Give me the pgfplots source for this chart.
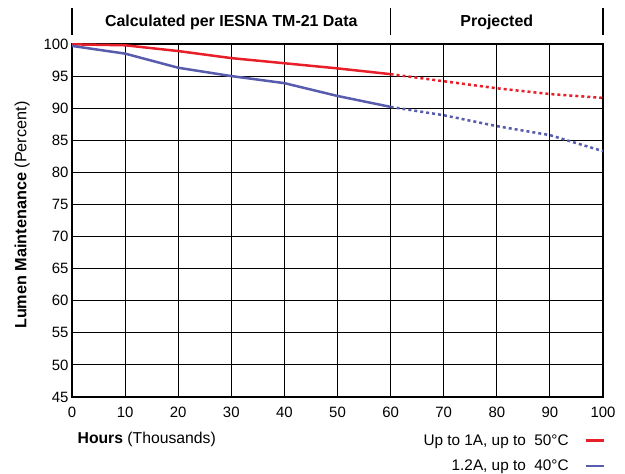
\documentclass[border=0pt]{standalone}
\usepackage{fontspec}
\setmainfont{Liberation Sans}
\usepackage{pgfplots}
\pgfplotsset{compat=1.18}
\definecolor{redline}{RGB}{232,30,40}
\definecolor{blueline}{RGB}{88,92,172}
\begin{document}
\begin{tikzpicture}[x=1bp,y=1bp]
\useasboundingbox (0,0) rectangle (625,474);
\begin{axis}[
  at={(72bp,77bp)}, anchor=south west,
  scale only axis, width=531bp, height=353bp,
  xmin=0, xmax=100, ymin=45, ymax=100,
  xtick={0,10,...,100}, ytick={45,50,...,100},
  grid=major, grid style={black, line width=1.1bp},
  axis line style={black, line width=1.3bp},
  major tick length=0pt,
  clip=false,
  tick label style={font=\fontsize{15}{17}\selectfont},
  xticklabel style={yshift=-7bp},
  /pgf/number format/assume math mode=true,
  xlabel={\textbf{Hours} (Thousands)},
  xlabel style={at={(axis description cs:0.004,-0.119)}, anchor=west, font=\fontsize{15.8}{18}\selectfont},
  ylabel={\textbf{Lumen Maintenance} (Percent)},
  ylabel style={at={(axis description cs:-0.094,0.515)}, anchor=center, font=\fontsize{16.3}{18}\selectfont},
  legend plot pos=right,
  legend cell align=right,
  legend image code/.code={\path[draw=none, fill=none] (0bp,-1bp) rectangle (33bp,1bp);
    \draw[line width=2.5bp] (15bp,0bp) -- (33bp,0bp);},
  legend style={at={(axis description cs:1.004,-0.10)}, anchor=north east,
    draw=none, fill=none, font=\fontsize{15.4}{18}\selectfont,
    row sep=9bp, inner sep=0pt},
]
\addplot[redline, line width=2.5bp] coordinates {
  (0,99.95) (10,99.8) (20,98.9) (30,97.8) (40,97.0) (50,96.2) (60,95.3)
};
\addlegendentry{Up to 1A, up to\ \ 50°C}
\addplot[blueline, line width=2.5bp] coordinates {
  (0,99.7) (10,98.5) (20,96.3) (30,95.0) (40,93.9) (50,91.9) (60,90.2)
};
\addlegendentry{1.2A, up to\ \ 40°C}
\addplot[redline, line width=2.5bp, dash pattern=on 3bp off 3bp, forget plot] coordinates {
  (60,95.3) (70,94.2) (80,93.1) (90,92.2) (100,91.6)
};
\addplot[blueline, line width=2.5bp, dash pattern=on 3bp off 3bp, forget plot] coordinates {
  (60,90.2) (70,88.9) (80,87.2) (90,85.8) (100,83.3)
};
\draw[black, line width=1.3bp] (axis description cs:0,1.025) -- (axis description cs:0,1.102);
\draw[black, line width=1.3bp] (axis description cs:0.6,1.025) -- (axis description cs:0.6,1.102);
\draw[black, line width=1.3bp] (axis description cs:1,1.025) -- (axis description cs:1,1.102);
\node[font=\fontsize{16}{18}\selectfont\bfseries] at (axis description cs:0.3,1.062) {Calculated per IESNA TM-21 Data};
\node[font=\fontsize{16}{18}\selectfont\bfseries] at (axis description cs:0.8,1.062) {Projected};
\end{axis}
\end{tikzpicture}
\end{document}
